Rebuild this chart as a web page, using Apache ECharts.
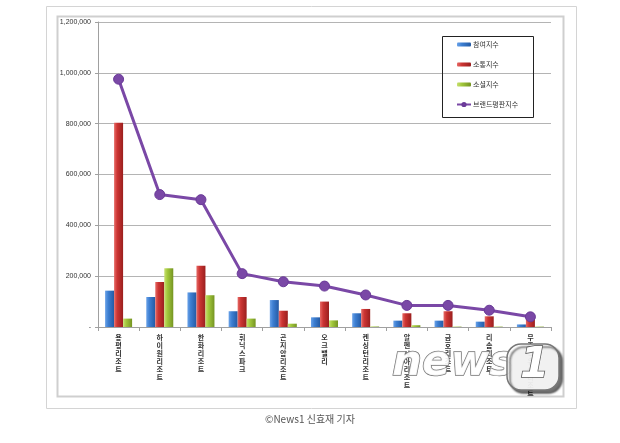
<!DOCTYPE html>
<html>
<head>
<meta charset="utf-8">
<script src="https://cdn.jsdelivr.net/npm/echarts@6/dist/echarts.min.js"></script>
<style>
html,body{margin:0;padding:0;background:#fff;}
#c{width:620px;height:443px;}
</style>
</head>
<body>
<div id="c"></div>
<script>
const categories = ['용평리조트','하이원리조트','한화리조트','휘닉스파크','곤지암리조트','오크밸리','켄싱턴리조트','알펜시아리조트','금호리조트','리솜리조트','무주덕유산리조트'];
const participation = [143000, 118000, 136000, 62000, 106000, 38000, 54000, 25000, 25000, 21000, 10000];
const communication = [804000, 177000, 241000, 118000, 64000, 100000, 71000, 54000, 62000, 42000, 34000];
const social = [33000, 231000, 125000, 33000, 13000, 26000, 2000, 7000, 1500, 1500, 1500];
const brandIndex = [975000, 521000, 501000, 210000, 178000, 161000, 126000, 85000, 85000, 66000, 40000];
const seriesNames = ['참여지수','소통지수','소셜지수','브랜드평판지수'];
const yTicks = {min: 0, max: 1200000, interval: 200000};

const chart = echarts.init(document.getElementById('c'));
const grad = (a, b, c) => new echarts.graphic.LinearGradient(0, 0, 1, 0, [
  {offset: 0, color: a}, {offset: 0.35, color: b}, {offset: 1, color: c}
]);
const fontKR = '"Noto Sans CJK KR", "Noto Sans", sans-serif';

chart.setOption({
  animation: false,
  backgroundColor: '#fff',
  grid: {left: 98, right: 69, top: 22, bottom: 116},
  xAxis: {
    type: 'category',
    data: categories,
    axisLine: {lineStyle: {color: '#a0a0a0', width: 1}},
    axisTick: {show: true, alignWithLabel: false, length: 4, lineStyle: {color: '#a0a0a0'}},
    axisLabel: {
      interval: 0,
      rotate: 0,
      hideOverlap: false,
      margin: 6,
      fontSize: 7,
      lineHeight: 8,
      color: '#333',
      fontFamily: fontKR,
      fontWeight: 'bold',
      formatter: v => v.split('').join('\n'),
      align: 'center',
      verticalAlign: 'top'
    }
  },
  yAxis: {
    type: 'value',
    min: yTicks.min, max: yTicks.max, interval: yTicks.interval,
    axisLine: {show: true, lineStyle: {color: '#a0a0a0', width: 1}},
    axisTick: {show: true, length: 3, lineStyle: {color: '#a0a0a0'}},
    splitLine: {lineStyle: {color: '#b4b4b4', width: 1}},
    axisLabel: {
      fontSize: 7, color: '#333', margin: 7, fontFamily: '"Liberation Sans", sans-serif',
      formatter: v => v === 0 ? '-' : v.toLocaleString('en-US')
    }
  },
  legend: {
    orient: 'vertical',
    left: 456, top: 41,
    z: 20,
    itemGap: 13,
    itemWidth: 14, itemHeight: 4,
    padding: 0,
    textStyle: {fontSize: 7, color: '#333', fontFamily: fontKR, padding: [0, 0, 0, -3]},
    data: [
      {name: seriesNames[0], icon: 'roundRect'},
      {name: seriesNames[1], icon: 'roundRect'},
      {name: seriesNames[2], icon: 'roundRect'},
      {name: seriesNames[3]}
    ]
  },
  series: [
    {name: seriesNames[0], type: 'bar', data: participation, barWidth: 9, barGap: '0%',
     itemStyle: {color: grad('#6aa2e8', '#3d7fd2', '#245aa4')}},
    {name: seriesNames[1], type: 'bar', data: communication, barWidth: 9, barGap: '0%',
     itemStyle: {color: grad('#e66a66', '#cc3533', '#9a1f1e')}},
    {name: seriesNames[2], type: 'bar', data: social, barWidth: 9, barGap: '0%',
     itemStyle: {color: grad('#c8e070', '#a2c83c', '#759422')}},
    {name: seriesNames[3], type: 'line', data: brandIndex, z: 5,
     symbol: 'circle', symbolSize: 10,
     lineStyle: {color: '#7a48a6', width: 3},
     itemStyle: {color: '#7a48a6', borderColor: '#6a3a98', borderWidth: 1}}
  ],
  graphic: [
    {type: 'rect', shape: {x: 46.5, y: 6.5, width: 530, height: 402}, style: {fill: 'none', stroke: '#d4d4d4', lineWidth: 1}, z: -10},
    {type: 'rect', shape: {x: 57.5, y: 16.5, width: 506, height: 380}, style: {fill: 'none', stroke: '#cfcfcf', lineWidth: 2}, z: -10},
    {type: 'rect', shape: {x: 442.5, y: 36.5, width: 91, height: 81}, style: {fill: 'none', stroke: '#222', lineWidth: 1}, z: 10},
    {type: 'text', left: 'center', top: 414, style: {text: '©News1 신효재 기자', fontSize: 10, fill: '#555', fontFamily: '"Noto Sans CJK KR", "Liberation Serif", serif'}, z: 10},
    {type: 'text', x: 392, y: 343, z: 100,
     style: {text: 'news', fontSize: 42, fontStyle: 'italic', fontWeight: 'bold', fontFamily: '"DejaVu Sans", sans-serif',
             fill: 'rgba(255,255,255,0.9)', stroke: '#777', lineWidth: 1.5,
             shadowColor: 'rgba(0,0,0,0.5)', shadowBlur: 2, shadowOffsetX: 2, shadowOffsetY: 3}},
    {type: 'rect', z: 100, shape: {x: 507, y: 344, width: 52, height: 46, r: 14},
     style: {fill: 'rgba(255,255,255,0.9)', stroke: '#777', lineWidth: 1.5,
             shadowColor: 'rgba(0,0,0,0.6)', shadowBlur: 2, shadowOffsetX: 3, shadowOffsetY: 3}},
    {type: 'text', x: 520, y: 345, z: 101,
     style: {text: '1', fontSize: 42, fontStyle: 'italic', fontWeight: 'bold', fontFamily: '"DejaVu Sans", sans-serif',
             fill: '#fff', stroke: '#555', lineWidth: 1.5}}
  ]
});
</script>
</body>
</html>
